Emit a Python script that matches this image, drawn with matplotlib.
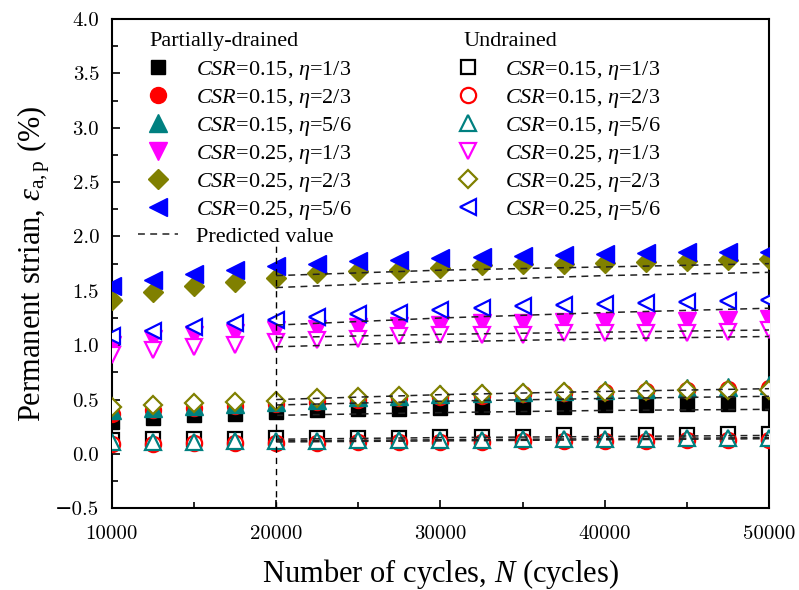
import numpy as np
import matplotlib
matplotlib.use("Agg")
import matplotlib.pyplot as plt
from matplotlib.lines import Line2D
from matplotlib.ticker import MultipleLocator

plt.rcParams['font.family'] = ['Liberation Serif', 'DejaVu Serif']
plt.rcParams['mathtext.fontset'] = 'custom'
plt.rcParams['mathtext.rm'] = 'Liberation Serif'
plt.rcParams['mathtext.it'] = 'Liberation Serif:italic'

# ----- DATA -----
N = np.arange(10000, 50001, 2500)

labels = [r'$CSR$=0.15, $\eta$=1/3', r'$CSR$=0.15, $\eta$=2/3', r'$CSR$=0.15, $\eta$=5/6',
          r'$CSR$=0.25, $\eta$=1/3', r'$CSR$=0.25, $\eta$=2/3', r'$CSR$=0.25, $\eta$=5/6']

# partially-drained tests
pd_015_13 = [0.29, 0.33, 0.355, 0.37, 0.385, 0.40, 0.415, 0.415, 0.425, 0.43, 0.43, 0.435, 0.45, 0.45, 0.46, 0.46, 0.47]
pd_015_23 = [0.37, 0.40, 0.42, 0.44, 0.46, 0.48, 0.50, 0.51, 0.52, 0.53, 0.55, 0.56, 0.57, 0.58, 0.59, 0.60, 0.61]
pd_015_56 = [0.40, 0.42, 0.44, 0.46, 0.48, 0.50, 0.52, 0.53, 0.55, 0.56, 0.57, 0.58, 0.59, 0.60, 0.61, 0.62, 0.63]
pd_025_13 = [1.00, 1.06, 1.09, 1.11, 1.14, 1.15, 1.17, 1.175, 1.185, 1.20, 1.205, 1.215, 1.215, 1.22, 1.225, 1.23, 1.24]
pd_025_23 = [1.415, 1.49, 1.54, 1.58, 1.62, 1.66, 1.68, 1.69, 1.71, 1.74, 1.745, 1.75, 1.76, 1.765, 1.775, 1.78, 1.79]
pd_025_56 = [1.54, 1.60, 1.655, 1.69, 1.73, 1.75, 1.77, 1.78, 1.80, 1.81, 1.82, 1.83, 1.84, 1.85, 1.855, 1.86, 1.86]

# undrained tests
ud_015_13 = [0.13, 0.14, 0.14, 0.14, 0.15, 0.15, 0.15, 0.15, 0.16, 0.16, 0.16, 0.17, 0.17, 0.17, 0.17, 0.18, 0.18]
ud_015_23 = [0.09, 0.09, 0.10, 0.10, 0.10, 0.10, 0.11, 0.11, 0.11, 0.11, 0.12, 0.12, 0.12, 0.12, 0.13, 0.13, 0.13]
ud_015_56 = [0.11, 0.11, 0.11, 0.12, 0.12, 0.12, 0.13, 0.13, 0.13, 0.13, 0.14, 0.14, 0.14, 0.14, 0.15, 0.15, 0.15]
ud_025_13 = [0.91, 0.955, 0.98, 1.00, 1.03, 1.045, 1.06, 1.08, 1.09, 1.09, 1.095, 1.11, 1.11, 1.115, 1.115, 1.12, 1.14]
ud_025_23 = [0.43, 0.45, 0.47, 0.48, 0.49, 0.51, 0.52, 0.53, 0.54, 0.555, 0.56, 0.57, 0.57, 0.58, 0.585, 0.59, 0.59]
ud_025_56 = [1.08, 1.13, 1.17, 1.20, 1.23, 1.26, 1.285, 1.30, 1.32, 1.34, 1.36, 1.37, 1.38, 1.385, 1.40, 1.41, 1.415]

# predicted curves (from N = 20000 on)
N_pred = [20000, 30000, 40000, 50000]
predicted = [
    [1.64, 1.69, 1.72, 1.75],
    [1.53, 1.59, 1.64, 1.67],
    [1.185, 1.25, 1.30, 1.34],
    [1.07, 1.10, 1.12, 1.14],
    [0.985, 1.03, 1.06, 1.08],
    [0.50, 0.545, 0.575, 0.60],
    [0.45, 0.485, 0.51, 0.53],
    [0.355, 0.38, 0.40, 0.41],
    [0.135, 0.15, 0.16, 0.17],
    [0.12, 0.13, 0.14, 0.15],
    [0.11, 0.12, 0.13, 0.14],
]

pd_series = [pd_015_13, pd_015_23, pd_015_56, pd_025_13, pd_025_23, pd_025_56]
ud_series = [ud_015_13, ud_015_23, ud_015_56, ud_025_13, ud_025_23, ud_025_56]

colors = ['black', 'red', '#008080', '#FF00FF', '#808000', 'blue']
markers = ['s', 'o', '^', 'v', 'D', '<']
msizes = [10.5, 11.5, 12.5, 12.5, 10, 12.5]

# ----- FIGURE -----
fig = plt.figure(figsize=(7.99, 5.90), dpi=100)
ax = fig.add_axes([0.1398, 0.1385, 0.823, 0.8293])

pd_handles = []
for ys, c, m, ms in zip(pd_series, colors, markers, msizes):
    h, = ax.plot(N, ys, linestyle='none', marker=m, ms=ms, color=c, mec=c, zorder=3)
    pd_handles.append(h)

ud_handles = []
for ys, c, m, ms in zip(ud_series, colors, markers, msizes):
    h, = ax.plot(N, ys, linestyle='none', marker=m, ms=ms - 0.5, mfc='white', mec=c,
                 mew=1.6, zorder=4)
    ud_handles.append(h)

for ys in predicted:
    ax.plot(N_pred, ys, color='#222222', lw=1.1, ls=(0, (4.5, 3.5)), zorder=5)
ax.plot([20000, 20000], [-0.5, 1.95], color='black', lw=1.0, ls=(0, (4.5, 3.5)), zorder=5)

ax.set_xlim(10000, 50000)
ax.set_ylim(-0.5, 4.0)
ax.xaxis.set_major_locator(MultipleLocator(10000))
ax.xaxis.set_minor_locator(MultipleLocator(5000))
ax.yaxis.set_major_locator(MultipleLocator(0.5))
ax.yaxis.set_minor_locator(MultipleLocator(0.25))
ax.yaxis.set_major_formatter(plt.FuncFormatter(lambda v, p: f'{v:.1f}'.replace('-', '\u2212')))
ax.tick_params(which='both', direction='in', top=False, right=False, width=1.2,
               labelsize=15, labelfontfamily=['cmr10', 'DejaVu Serif'])
ax.tick_params(which='major', length=6)
ax.tick_params(which='minor', length=4)
ax.tick_params(axis='x', pad=12)
ax.tick_params(axis='y', pad=9)
for s in ax.spines.values():
    s.set_linewidth(1.5)

ax.set_xlabel(r'Number of cycles, $N$ (cycles)', fontsize=22, labelpad=10)
ax.set_ylabel(r'Permanent strian, $\varepsilon_{\mathrm{a,p}}$ (%)', fontsize=22, labelpad=2)

# ----- LEGENDS -----
pred_handle = Line2D([], [], color='#222222', lw=1.1, ls=(0, (4.5, 3.5)))
leg_kw = dict(frameon=False, fontsize=16, loc='upper left', borderpad=0, borderaxespad=0,
              handlelength=1.8, handletextpad=0.8, labelspacing=0.225)
leg1 = ax.legend(pd_handles + [pred_handle], labels + ['Predicted value'],
                 bbox_to_anchor=(0.04, 0.919), **leg_kw)
ax.add_artist(leg1)
ax.legend(ud_handles, labels, bbox_to_anchor=(0.511, 0.919), **leg_kw)

ax.text(0.058, 0.955, 'Partially-drained', transform=ax.transAxes, fontsize=16, va='center')
ax.text(0.535, 0.955, 'Undrained', transform=ax.transAxes, fontsize=16, va='center')

fig.savefig('out.png', dpi=100)
